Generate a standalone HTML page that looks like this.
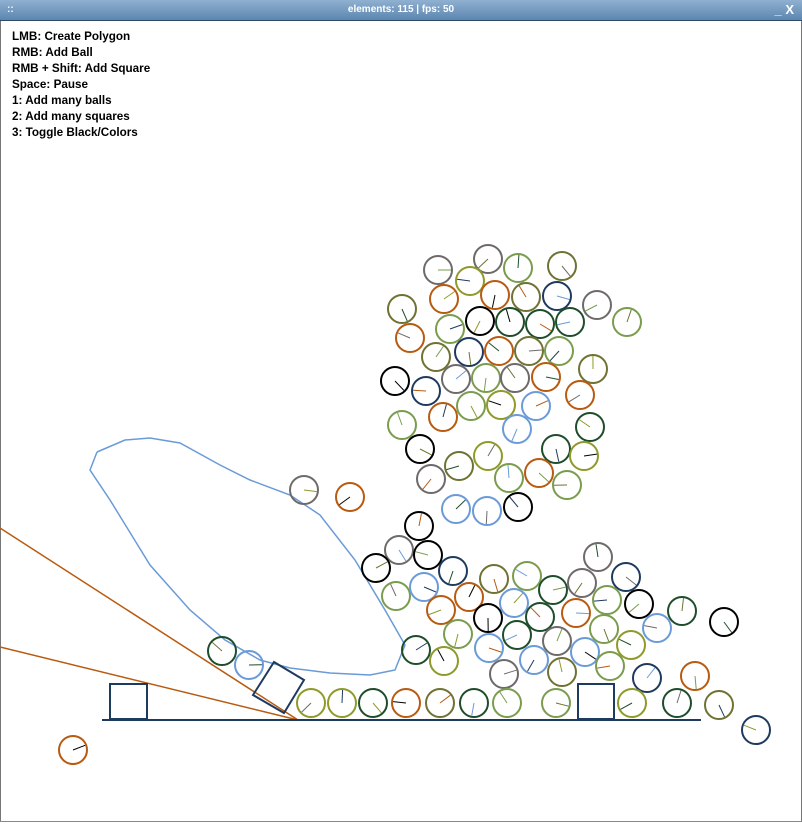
<!DOCTYPE html>
<html><head><meta charset="utf-8"><style>
html,body{margin:0;padding:0;background:#fff;width:802px;height:827px;overflow:hidden;font-family:"Liberation Sans",sans-serif}
#bar{position:absolute;left:0;top:0;width:802px;height:20px;background:linear-gradient(#8fb0d0,#5c86b0);border-bottom:1px solid #2c4a6a;color:#fff;font-size:10px;font-weight:bold;text-align:center;line-height:20px}
#frame{position:absolute;left:0;top:0;width:800px;height:825px;border:1px solid #777}
#txt{position:absolute;left:12px;top:29px;font-size:11.7px;font-weight:bold;line-height:16px;color:#000}
#bot{position:absolute;left:0;top:821px;width:802px;height:6px;border-top:1px solid #888;background:#fff}
svg{position:absolute;left:0;top:0}
</style></head><body>
<div id="frame"></div>
<div id="bar"><span style="position:absolute;left:7px">::</span>elements: 115 | fps: 50<span style="position:absolute;right:8px;font-size:13px">_ X</span></div>
<div id="txt">LMB: Create Polygon<br>RMB: Add Ball<br>RMB + Shift: Add Square<br>Space: Pause<br>1: Add many balls<br>2: Add many squares<br>3: Toggle Black/Colors</div>
<svg id="s" width="802" height="827">
<polyline points="97,452 90,470 110,500 150,565 190,610 225,640 260,660 290,668 330,673 370,675 395,670 405,645 385,610 355,560 320,515 290,495 250,480 220,465 180,443 150,438 125,440 97,452" fill="none" stroke="#6a9bd8" stroke-width="1.5"/>
<line x1="0" y1="528" x2="298" y2="720" stroke="#b85a10" stroke-width="1.5"/>
<line x1="0" y1="647" x2="298" y2="720" stroke="#b85a10" stroke-width="1.5"/>
<line x1="102" y1="720" x2="701" y2="720" stroke="#1f3a5f" stroke-width="2"/>
<rect x="110" y="684" width="37" height="35" fill="none" stroke="#1f3a5f" stroke-width="2"/>
<rect x="578" y="684" width="36" height="35" fill="none" stroke="#1f3a5f" stroke-width="2"/>
<polygon points="274,662 304,680 284,713 253,695" fill="none" stroke="#1f3a5f" stroke-width="2"/>
</svg>
<div id="bot"></div>
<script>
var C={g:"#6e6a6a",y:"#8f9a2a",o:"#b85a10",l:"#7a9c4e",d:"#1e4d2b",n:"#1f3a5f",k:"#000",b:"#6a9bd8",v:"#6f7232"};
var keys="gyoldnkbv";
var a=[[438,270,"g"],[488,259,"g"],[518,268,"l"],[562,266,"v"],[470,281,"y"],[444,299,"o"],[495,295,"o"],[526,297,"v"],[557,296,"n"],[597,305,"g"],[627,322,"l"],[402,309,"v"],[410,338,"o"],[450,329,"l"],[480,321,"k"],[510,322,"d"],[540,324,"d"],[570,322,"d"],[436,357,"v"],[469,352,"n"],[499,351,"o"],[529,351,"v"],[559,351,"l"],[593,369,"v"],[395,381,"k"],[426,391,"n"],[456,379,"g"],[486,378,"l"],[515,378,"g"],[546,377,"o"],[580,395,"o"],[443,417,"o"],[471,406,"l"],[501,405,"y"],[536,406,"b"],[517,429,"b"],[402,425,"l"],[420,449,"k"],[459,466,"v"],[488,456,"y"],[556,449,"d"],[590,427,"d"],[584,456,"y"],[431,479,"g"],[509,478,"l"],[539,473,"o"],[567,485,"l"],[456,509,"b"],[487,511,"b"],[518,507,"k"],[304,490,"g"],[350,497,"o"],[419,526,"k"],
[399,550,"g"],[428,555,"k"],[376,568,"k"],[453,571,"n"],[396,596,"l"],[424,587,"b"],[441,610,"o"],[469,597,"o"],[494,579,"v"],[527,576,"l"],[553,590,"d"],[582,583,"g"],[598,557,"g"],[626,577,"n"],[607,600,"l"],[514,603,"b"],[488,618,"k"],[540,617,"d"],[576,613,"o"],[639,604,"k"],[682,611,"d"],[724,622,"k"],[657,628,"b"],[416,650,"d"],[458,634,"l"],[444,661,"y"],[489,648,"b"],[517,635,"d"],[557,641,"g"],[604,629,"l"],[631,645,"y"],[504,674,"g"],[534,660,"b"],[562,672,"v"],[585,652,"b"],[610,666,"l"],[647,678,"n"],[695,676,"o"],[222,651,"d"],[249,665,"b"],
[311,703,"y"],[342,703,"y"],[373,703,"d"],[406,703,"o"],[440,703,"v"],[474,703,"d"],[507,703,"l"],[556,703,"l"],[632,703,"y"],[677,703,"d"],[719,705,"v"],[756,730,"n"],[73,750,"o"]];
var s=document.getElementById("s"),h="";
a.forEach(function(c,i){var ang=(i*2.39)%6.283,lc=C[keys[(i*5+3)%9]];
h+='<circle cx="'+c[0]+'" cy="'+c[1]+'" r="14" fill="none" stroke="'+C[c[2]]+'" stroke-width="2"/>';
h+='<line x1="'+c[0]+'" y1="'+c[1]+'" x2="'+(c[0]+13*Math.cos(ang)).toFixed(1)+'" y2="'+(c[1]+13*Math.sin(ang)).toFixed(1)+'" stroke="'+lc+'" stroke-width="1"/>';});
s.insertAdjacentHTML("beforeend",h);
</script>
</body></html>
